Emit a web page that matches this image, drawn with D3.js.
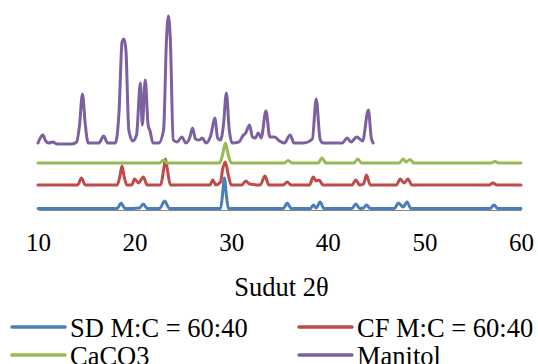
<!DOCTYPE html>
<html>
<head>
<meta charset="utf-8">
<script src="https://cdn.jsdelivr.net/npm/d3@7"></script>
<style>
  html, body { margin: 0; padding: 0; background: #fff; }
  svg { display: block; }
</style>
</head>
<body>
<svg id="chart" width="538" height="364"></svg>
<script>
// 2θ ticks
const xTicks = [10, 20, 30, 40, 50, 60];

// [2θ, intensity] pairs, intensity in arbitrary units (patterns already offset)
const sdData = [
  [10, 1.5], [18.2, 1.5], [18.6, 7], [19.0, 1.5], [20.5, 2], [20.9, 6], [21.3, 1.5],
  [22.6, 1.5], [23.1, 9], [23.6, 1.5], [28.9, 1.5], [29.1, 15], [29.3, 32], [29.5, 15],
  [29.7, 1.5], [35.4, 1.5], [35.8, 7], [36.2, 1.5], [38.2, 1.5], [38.5, 5], [38.8, 2],
  [39.2, 8], [39.6, 1.5], [42.5, 1.5], [42.9, 6], [43.3, 1.5], [43.7, 2], [44.0, 5],
  [44.4, 1.5], [46.9, 1.5], [47.3, 7], [47.8, 3], [48.2, 8], [48.6, 1.5], [56.8, 1.5],
  [57.2, 5], [57.6, 1.5], [60, 1.5]
];

const cfData = [
  [10, 25], [14.1, 25], [14.5, 32], [14.9, 25], [18.2, 25], [18.5, 35], [18.7, 44],
  [18.9, 34], [19.2, 25], [19.7, 25], [20.0, 31], [20.4, 27], [20.9, 33], [21.3, 25],
  [22.7, 25], [23.0, 40], [23.2, 51], [23.4, 40], [23.7, 25], [27.8, 25], [28.1, 30],
  [28.4, 25], [28.9, 28], [29.1, 40], [29.4, 48], [29.7, 35], [30.0, 25], [31.1, 25],
  [31.5, 29], [31.9, 26], [33.0, 25], [33.5, 34], [33.9, 25], [35.4, 25], [35.8, 28],
  [36.2, 25], [38.1, 25], [38.5, 33], [38.8, 29], [39.1, 30], [39.5, 25], [42.5, 25],
  [42.9, 30], [43.3, 25], [43.7, 26], [44.0, 35], [44.4, 25], [47.1, 25], [47.5, 31],
  [47.9, 27], [48.3, 31], [48.7, 25], [56.7, 25], [57.1, 27], [57.5, 25], [60, 25]
];

const caco3Data = [
  [10, 47], [22.6, 47], [23.0, 50], [23.4, 47], [28.8, 47], [29.1, 55], [29.4, 67],
  [29.7, 55], [30.0, 47], [35.5, 47], [35.9, 49.5], [36.3, 47], [39.0, 47], [39.4, 52],
  [39.8, 47], [42.7, 47], [43.1, 51], [43.5, 47], [47.4, 47], [47.8, 51], [48.1, 48],
  [48.5, 50.5], [48.9, 47], [56.9, 47], [57.3, 48.5], [57.7, 47], [60, 47]
];

const manitolData = [
  [10.0, 67], [10.3, 73], [10.5, 75], [10.8, 69], [11.1, 67], [11.5, 68], [12.0, 66],
  [13.5, 66], [14.0, 68], [14.3, 85], [14.6, 116], [14.9, 85], [15.2, 67], [16.3, 67],
  [16.8, 74], [17.2, 67], [18.0, 67], [18.4, 100], [18.7, 168], [18.9, 171], [19.1, 160],
  [19.4, 80], [19.8, 69], [20.2, 75], [20.6, 127], [20.8, 85], [21.1, 130], [21.4, 85],
  [21.6, 79], [21.9, 67], [22.5, 67], [23.0, 80], [23.3, 170], [23.5, 194], [23.7, 170],
  [24.0, 70], [24.4, 68], [24.9, 73], [25.3, 67], [25.7, 72], [26.0, 82], [26.3, 71],
  [26.7, 70], [27.0, 72], [27.4, 67], [27.9, 75], [28.3, 92], [28.6, 72], [28.9, 70],
  [29.2, 85], [29.5, 117], [29.8, 80], [30.1, 67], [30.8, 68], [31.2, 74], [31.5, 77],
  [31.9, 85], [32.2, 73], [32.5, 72], [32.8, 77], [33.1, 72], [33.6, 99], [34.0, 73],
  [34.5, 73], [35.0, 69], [35.5, 67], [36.1, 75], [36.5, 67], [37.5, 67], [38.4, 71],
  [38.8, 111], [39.2, 71], [39.5, 67], [41.5, 67], [42.0, 72], [42.4, 68], [43.0, 73],
  [43.6, 69], [44.2, 100], [44.5, 72], [44.7, 67]
];

const seriesNames = ["SD M:C = 60:40", "CF M:C = 60:40", "CaCO3", "Manitol"];
const seriesData = [sdData, cfData, caco3Data, manitolData];
const seriesColors = ["#4A7EBB", "#BE4B48", "#98B954", "#7D60A0"];

const font = "'Liberation Serif', 'Times New Roman', serif";

const svg = d3.select("#chart");

const x = d3.scaleLinear().domain([10, 60]).range([38, 521]);
const y = d3.scaleLinear().domain([0, 210]).range([210, 0]);

// X axis
const xAxis = svg.append("g")
  .attr("transform", `translate(0,${y(0)})`)
  .call(d3.axisBottom(x).tickValues(xTicks).tickSize(0).tickPadding(23));

xAxis.select(".domain").attr("stroke", "#868686").attr("stroke-width", 1);
xAxis.selectAll("text")
  .attr("fill", "#000")
  .style("font-family", font)
  .style("font-size", "25px");

// Axis title
svg.append("text")
  .attr("x", 281.5)
  .attr("y", 296)
  .attr("text-anchor", "middle")
  .style("font-family", font)
  .style("font-size", "26.5px")
  .text("Sudut 2\u03B8");

// Series lines
const line = d3.line()
  .x(d => x(d[0]))
  .y(d => y(d[1]))
  .curve(d3.curveMonotoneX);

svg.append("g")
  .selectAll("path")
  .data(seriesData)
  .join("path")
  .attr("d", line)
  .attr("fill", "none")
  .attr("stroke", (_, i) => seriesColors[i])
  .attr("stroke-width", 3)
  .attr("stroke-linejoin", "round")
  .attr("stroke-linecap", "round");

// Legend, two columns
const legend = svg.append("g");
const items = legend.selectAll("g")
  .data(seriesNames)
  .join("g")
  .attr("transform", (_, i) => `translate(${i % 2 ? 299 : 12},${i < 2 ? 327 : 355})`);

items.append("line")
  .attr("x1", 0)
  .attr("x2", 53)
  .attr("stroke", (_, i) => seriesColors[i])
  .attr("stroke-width", 3.5)
  .attr("stroke-linecap", "round");

items.append("text")
  .attr("x", 58)
  .attr("y", 9.5)
  .style("font-family", font)
  .style("font-size", "26.5px")
  .text(d => d);
</script>
</body>
</html>
